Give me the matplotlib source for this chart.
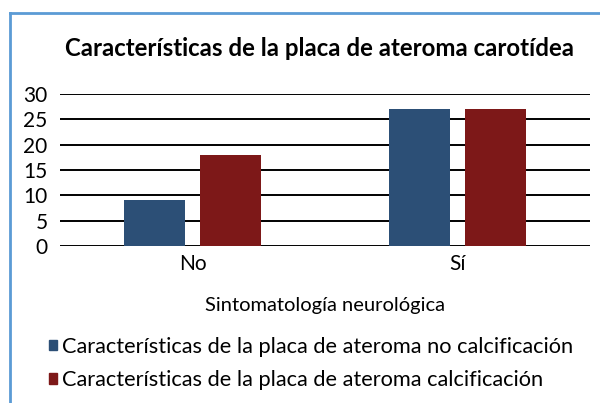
import numpy as np
import matplotlib.pyplot as plt
from matplotlib.lines import Line2D
from matplotlib.patches import Patch

plt.rcParams['font.family'] = ['Lato', 'DejaVu Sans']

categories = ['No', 'Sí']
no_calc = [9, 27]
calc = [18, 27]
series_names = ['Características de la placa de ateroma no calcificación',
                'Características de la placa de ateroma calcificación']
colors = ['#2c4f76', '#7d1818']

fig = plt.figure(figsize=(6, 4.03), dpi=100)
ax = fig.add_axes([60 / 600, 1 - 246 / 403, 530 / 600, 152 / 403])

x = np.arange(len(categories))
w = 0.23
ax.bar(x - 0.143, no_calc, w, color=colors[0], zorder=3)
ax.bar(x + 0.143, calc, w, color=colors[1], zorder=3)

ax.set_xlim(-0.5, 1.5)
ax.set_ylim(0, 30)
ax.set_yticks(range(0, 31, 5))
ax.set_xticks(x)
ax.set_xticklabels(categories)
ax.yaxis.grid(True, color='black', linewidth=1.4)
ax.set_axisbelow(True)
for s in ax.spines.values():
    s.set_visible(False)
ax.tick_params(length=0, labelsize=15, pad=9)
ax.tick_params(axis='x', pad=6)
ax.set_xlabel('Sintomatología neurológica', fontsize=14.5, labelpad=16)

fig.text(0.533, 1 - 48 / 403, 'Características de la placa de ateroma carotídea',
         ha='center', va='center', fontsize=17.3, fontweight='bold')

handles = [Patch(color=c) for c in colors]
fig.legend(handles, series_names, loc='upper left', bbox_to_anchor=(40 / 600, 1 - 328 / 403),
           frameon=False, fontsize=15.7, handlelength=0.36, handleheight=0.36,
           handletextpad=0.25, labelspacing=0.62, borderaxespad=0)

fig.add_artist(Line2D([10 / 600, 10 / 600], [0, 1 - 13 / 403], color='#5b9bd5', linewidth=2,
                      transform=fig.transFigure))
fig.add_artist(Line2D([10 / 600, 1], [1 - 13 / 403, 1 - 13 / 403], color='#5b9bd5', linewidth=2,
                      transform=fig.transFigure))

fig.savefig('out.png', dpi=100)
